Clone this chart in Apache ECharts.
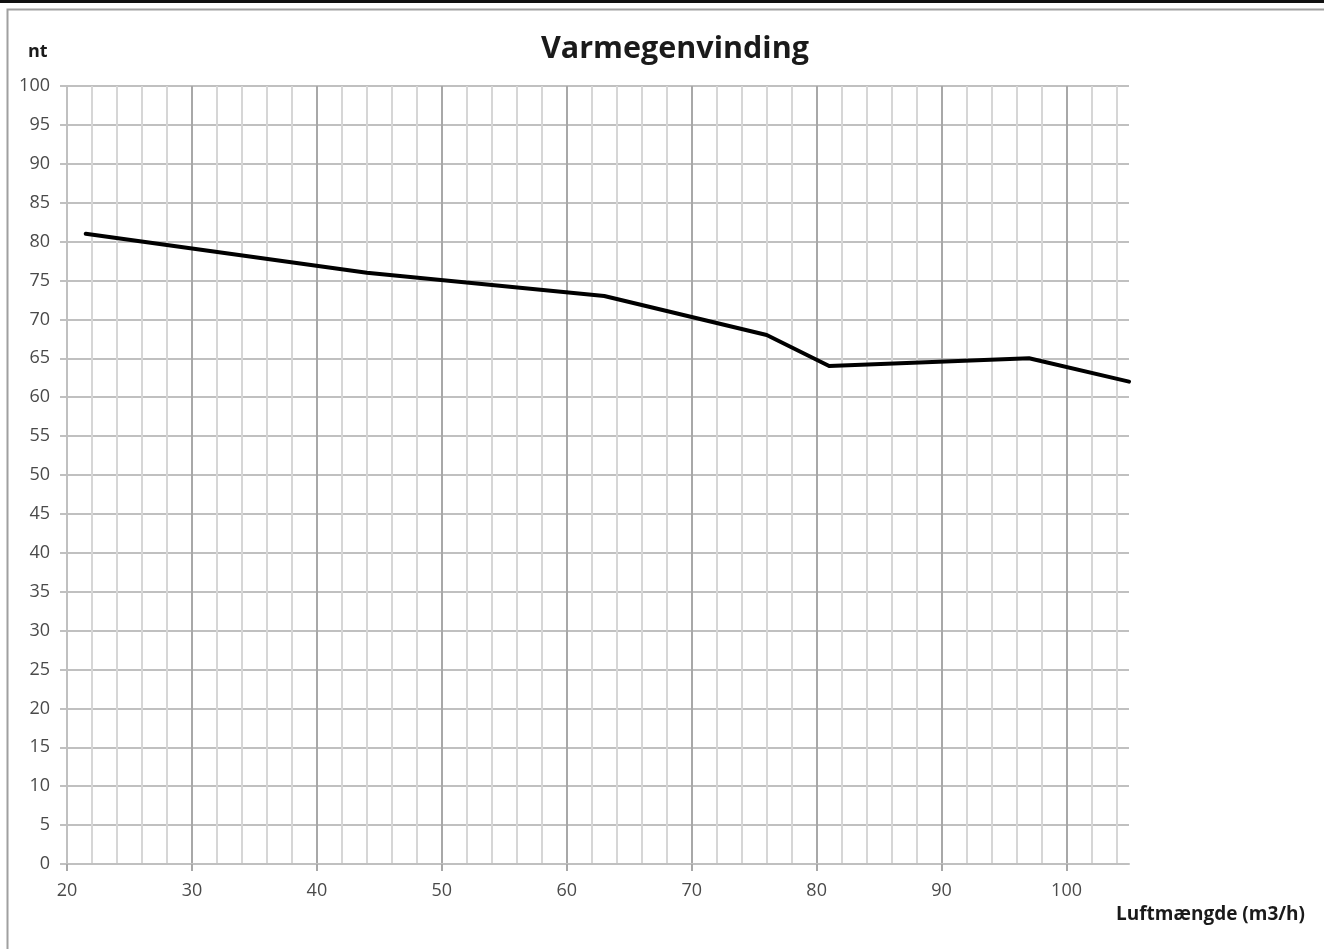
<!DOCTYPE html>
<html>
<head>
<meta charset="utf-8">
<script src="https://cdn.jsdelivr.net/npm/echarts@6/dist/echarts.min.js"></script>
<style>
  html, body { margin: 0; padding: 0; background: #fff; }
  #chart { width: 1324px; height: 949px; }
</style>
</head>
<body>
<div id="chart"></div>
<script>
// luftmængde (m3/h) og virkningsgrad, aflæst fra kurven
var luftmaengde = [21.5, 44, 63, 76, 81, 97, 105];
var virkningsgrad = [81, 76, 73, 68, 64, 65, 62];

var chartTitle = 'Varmegenvinding';
var yName = 'nt';
var xName = 'Luftmængde (m3/h)';

var points = [];
for (var i = 0; i < luftmaengde.length; i++) {
    points.push([luftmaengde[i], virkningsgrad[i]]);
}

var labelColor = '#4a4a4a';
var gridColor = '#c0c0c0';
var majorColor = '#a8a8a8';
var minorColor = '#d6d6d6';

var chart = echarts.init(document.getElementById('chart'), null, { renderer: 'canvas' });

chart.setOption({
    backgroundColor: '#fff',
    animation: false,
    title: {
        text: chartTitle,
        left: 536,
        top: 29,
        textStyle: {
            fontFamily: 'Open Sans',
            fontWeight: 'bold',
            fontSize: 30.5,
            color: '#1a1a1a'
        }
    },
    graphic: [
        // ramme
        { type: 'rect', shape: { x: 0, y: 0, width: 1324, height: 3 }, style: { fill: '#111' }, silent: true },
        { type: 'polyline', shape: { points: [[7.5, 949], [7.5, 9.5], [1324, 9.5]] },
          style: { stroke: '#a0a0a0', lineWidth: 2, fill: null }, silent: true },
        { type: 'text', left: 28, top: 43,
          style: { text: yName, fontFamily: 'Open Sans', fontWeight: 'bold', fontSize: 18, fill: '#1a1a1a' } },
        { type: 'text', left: 1116, top: 905,
          style: { text: xName, fontFamily: 'Open Sans', fontWeight: 'bold', fontSize: 19, fill: '#1a1a1a' } }
    ],
    grid: {
        left: 67,
        right: 195,
        top: 86,
        bottom: 85,
        containLabel: false
    },
    xAxis: [{
        // fine lodrette linjer hver 2.
        type: 'value',
        position: 'bottom',
        min: 20,
        max: 105,
        interval: 2,
        z: 0,
        axisLine: { show: false },
        axisTick: { show: false },
        axisLabel: { show: false },
        splitLine: {
            show: true,
            showMinLine: false,
            showMaxLine: false,
            lineStyle: { color: [minorColor, minorColor, minorColor, minorColor, majorColor], width: 2 }
        }
    }, {
        type: 'value',
        position: 'bottom',
        min: 20,
        max: 105,
        interval: 10,
        z: 1,
        axisLine: { show: true, lineStyle: { color: gridColor, width: 2 } },
        axisTick: { show: true, length: 7, lineStyle: { color: majorColor, width: 2 } },
        axisLabel: {
            showMaxLabel: false,
            margin: 18,
            fontFamily: 'Open Sans',
            fontSize: 18,
            color: labelColor
        },
        splitLine: { show: false }
    }],
    yAxis: {
        type: 'value',
        min: 0,
        max: 100,
        interval: 5,
        axisLine: { show: true, lineStyle: { color: gridColor, width: 2 } },
        axisTick: { show: true, length: 7, lineStyle: { color: gridColor, width: 2 } },
        axisLabel: {
            margin: 17,
            fontFamily: 'Open Sans',
            fontSize: 18,
            color: labelColor
        },
        splitLine: { show: true, lineStyle: { color: gridColor, width: 2 } }
    },
    series: [{
        type: 'line',
        xAxisIndex: 0,
        data: points,
        showSymbol: false,
        z: 5,
        lineStyle: { color: '#000', width: 4, cap: 'round', join: 'round' }
    }]
});
</script>
</body>
</html>
